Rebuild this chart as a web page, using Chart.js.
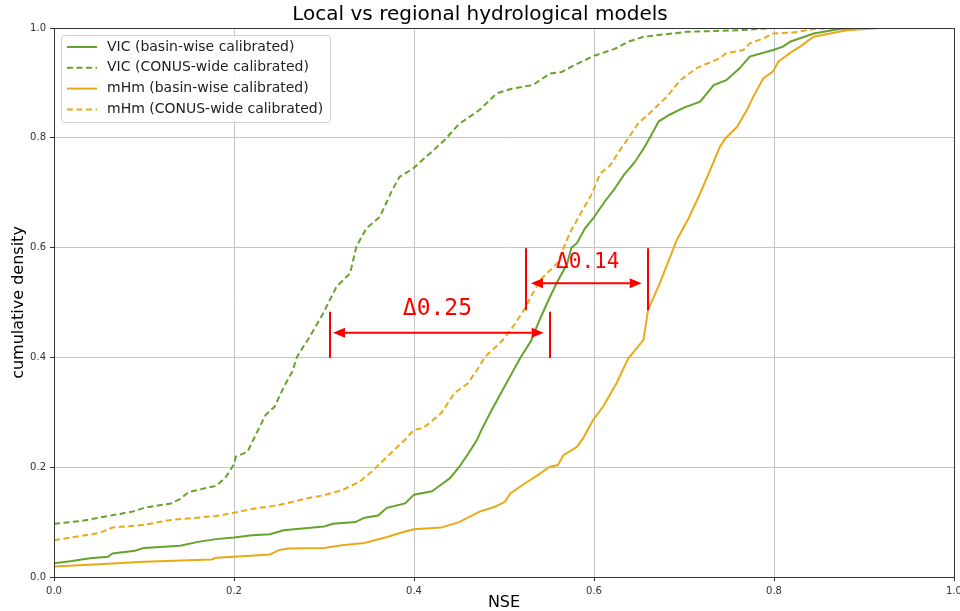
<!DOCTYPE html>
<html>
<head>
<meta charset="utf-8">
<script src="https://cdn.jsdelivr.net/npm/chart.js@4.4.1/dist/chart.umd.min.js"></script>
<style>
  html, body { margin: 0; padding: 0; background: #fff; }
  canvas { display: block; }
</style>
</head>
<body>
<canvas id="cdf" width="960" height="611"></canvas>
<script>
// NSE values (x) and cumulative density (y)
const vicBasinX = [0.000, 0.020, 0.040, 0.060, 0.065, 0.090, 0.100, 0.140, 0.160, 0.180, 0.200, 0.220, 0.240, 0.255, 0.300, 0.310, 0.335, 0.345, 0.360, 0.370, 0.390, 0.400, 0.420, 0.430, 0.440, 0.450, 0.460, 0.470, 0.475, 0.485, 0.495, 0.505, 0.518, 0.530, 0.540, 0.551, 0.560, 0.570, 0.575, 0.581, 0.590, 0.599, 0.612, 0.622, 0.633, 0.645, 0.655, 0.662, 0.672, 0.684, 0.700, 0.718, 0.733, 0.747, 0.762, 0.773, 0.799, 0.810, 0.818, 0.844, 0.873, 0.890]
const vicBasinY = [0.025, 0.029, 0.034, 0.037, 0.043, 0.048, 0.053, 0.057, 0.064, 0.069, 0.072, 0.076, 0.078, 0.085, 0.092, 0.097, 0.100, 0.108, 0.112, 0.126, 0.134, 0.150, 0.156, 0.168, 0.180, 0.200, 0.224, 0.250, 0.268, 0.300, 0.330, 0.360, 0.399, 0.430, 0.470, 0.510, 0.540, 0.570, 0.600, 0.608, 0.635, 0.653, 0.684, 0.705, 0.732, 0.755, 0.780, 0.800, 0.830, 0.842, 0.855, 0.866, 0.896, 0.905, 0.927, 0.948, 0.960, 0.966, 0.975, 0.990, 0.998, 1.000]

const vicConusX = [0.000, 0.030, 0.050, 0.070, 0.090, 0.100, 0.130, 0.140, 0.150, 0.180, 0.190, 0.200, 0.202, 0.215, 0.225, 0.235, 0.245, 0.255, 0.265, 0.270, 0.285, 0.299, 0.314, 0.329, 0.336, 0.347, 0.362, 0.375, 0.384, 0.399, 0.418, 0.434, 0.450, 0.473, 0.492, 0.510, 0.532, 0.551, 0.564, 0.584, 0.601, 0.623, 0.638, 0.655, 0.703, 0.762, 0.800]
const vicConusY = [0.097, 0.102, 0.108, 0.114, 0.120, 0.126, 0.134, 0.142, 0.155, 0.166, 0.180, 0.205, 0.219, 0.228, 0.262, 0.295, 0.310, 0.345, 0.375, 0.401, 0.440, 0.480, 0.529, 0.553, 0.602, 0.635, 0.656, 0.702, 0.729, 0.744, 0.772, 0.796, 0.825, 0.851, 0.881, 0.890, 0.896, 0.917, 0.920, 0.937, 0.950, 0.962, 0.975, 0.984, 0.993, 0.996, 1.000]

const mhmBasinX = [0.000, 0.050, 0.100, 0.175, 0.180, 0.200, 0.240, 0.250, 0.260, 0.300, 0.320, 0.345, 0.370, 0.390, 0.400, 0.430, 0.450, 0.473, 0.490, 0.501, 0.507, 0.521, 0.538, 0.551, 0.560, 0.566, 0.581, 0.588, 0.599, 0.610, 0.625, 0.638, 0.655, 0.660, 0.673, 0.692, 0.705, 0.718, 0.729, 0.740, 0.746, 0.759, 0.770, 0.777, 0.788, 0.799, 0.805, 0.820, 0.829, 0.844, 0.881, 0.918]
const mhmBasinY = [0.019, 0.023, 0.028, 0.032, 0.035, 0.037, 0.041, 0.049, 0.052, 0.053, 0.058, 0.062, 0.073, 0.083, 0.087, 0.090, 0.100, 0.119, 0.128, 0.137, 0.152, 0.168, 0.186, 0.201, 0.204, 0.222, 0.237, 0.253, 0.286, 0.310, 0.353, 0.398, 0.432, 0.486, 0.535, 0.614, 0.653, 0.699, 0.741, 0.784, 0.799, 0.820, 0.851, 0.875, 0.908, 0.921, 0.939, 0.957, 0.966, 0.984, 0.996, 1.000]

const mhmConusX = [0.000, 0.050, 0.065, 0.100, 0.130, 0.180, 0.200, 0.220, 0.250, 0.280, 0.300, 0.320, 0.340, 0.355, 0.370, 0.390, 0.400, 0.410, 0.430, 0.445, 0.460, 0.470, 0.479, 0.499, 0.510, 0.522, 0.540, 0.559, 0.573, 0.584, 0.597, 0.607, 0.618, 0.629, 0.638, 0.649, 0.662, 0.681, 0.696, 0.714, 0.740, 0.747, 0.766, 0.773, 0.788, 0.799, 0.822, 0.844, 0.870]
const mhmConusY = [0.067, 0.080, 0.090, 0.095, 0.104, 0.111, 0.117, 0.124, 0.131, 0.143, 0.149, 0.158, 0.174, 0.195, 0.219, 0.250, 0.268, 0.271, 0.298, 0.335, 0.353, 0.377, 0.401, 0.432, 0.456, 0.486, 0.541, 0.571, 0.626, 0.659, 0.696, 0.735, 0.750, 0.778, 0.799, 0.826, 0.845, 0.875, 0.905, 0.927, 0.945, 0.954, 0.960, 0.972, 0.981, 0.990, 0.992, 0.998, 1.000]

const seriesLabels = ['VIC (basin-wise calibrated)', 'VIC (CONUS-wide calibrated)', 'mHm (basin-wise calibrated)', 'mHm (CONUS-wide calibrated)']
const tickValues = [0, 0.2, 0.4, 0.6, 0.8, 1.0]

// the two red "gap" markers (data units)
const deltaLabels = ['Δ0.25', 'Δ0.14']
const deltaLeftX = [0.307, 0.524]
const deltaRightX = [0.551, 0.660]
const deltaBarLow = [0.399, 0.486]
const deltaBarHigh = [0.483, 0.599]
const deltaArrowY = [0.445, 0.535]
const deltaArrowStart = [0.310, 0.530]
const deltaArrowEnd = [0.544, 0.653]
const deltaTextX = [0.426, 0.593]
const deltaTextY = [0.488, 0.572]
const deltaFontSize = [23, 21]

const green = '#66a32c'
const orange = '#e8aa18'
const dash = [6, 3.5]

const toPoints = (xs, ys) => xs.map((x, i) => ({ x: x, y: ys[i] }))

const makeSet = (label, xs, ys, color, dashed) => ({
    label: label,
    data: toPoints(xs, ys),
    borderColor: color,
    backgroundColor: color,
    borderWidth: 2,
    borderDash: dashed ? dash : [],
    showLine: true,
    pointRadius: 0,
    tension: 0,
    fill: false
})

const frameAndExtras = {
    id: 'frameAndExtras',
    afterDatasetsDraw(chart) {
        const ctx = chart.ctx
        const xs = chart.scales.x
        const ys = chart.scales.y
        const area = chart.chartArea

        // red delta markers
        ctx.save()
        ctx.strokeStyle = '#ff0000'
        ctx.fillStyle = '#ff0000'
        ctx.lineWidth = 2
        deltaLabels.forEach((txt, i) => {
            const yLo = ys.getPixelForValue(deltaBarLow[i])
            const yHi = ys.getPixelForValue(deltaBarHigh[i])
            ;[deltaLeftX[i], deltaRightX[i]].forEach(v => {
                const px = Math.round(xs.getPixelForValue(v))
                ctx.beginPath()
                ctx.moveTo(px, yLo)
                ctx.lineTo(px, yHi)
                ctx.stroke()
            })
            const ay = ys.getPixelForValue(deltaArrowY[i])
            const a0 = xs.getPixelForValue(deltaArrowStart[i])
            const a1 = xs.getPixelForValue(deltaArrowEnd[i])
            const head = 12, half = 5
            ctx.beginPath()
            ctx.moveTo(a0 + head, ay)
            ctx.lineTo(a1 - head, ay)
            ctx.stroke()
            ctx.beginPath()
            ctx.moveTo(a0, ay)
            ctx.lineTo(a0 + head, ay - half)
            ctx.lineTo(a0 + head, ay + half)
            ctx.closePath()
            ctx.fill()
            ctx.beginPath()
            ctx.moveTo(a1, ay)
            ctx.lineTo(a1 - head, ay - half)
            ctx.lineTo(a1 - head, ay + half)
            ctx.closePath()
            ctx.fill()

            ctx.font = deltaFontSize[i] + 'px "DejaVu Sans Mono", monospace'
            ctx.textAlign = 'center'
            ctx.textBaseline = 'middle'
            ctx.fillText(txt, xs.getPixelForValue(deltaTextX[i]), ys.getPixelForValue(deltaTextY[i]))
        })
        ctx.restore()

        // top and right spines
        ctx.save()
        ctx.strokeStyle = '#333'
        ctx.lineWidth = 1
        ctx.strokeRect(Math.round(area.left) + 0.5, Math.round(area.top) + 0.5,
            Math.round(area.right - area.left), Math.round(area.bottom - area.top))
        ctx.restore()

        // legend box in the upper left corner
        const lx = area.left + 7, ly = area.top + 7
        const lw = 269, lh = 87
        ctx.save()
        ctx.fillStyle = 'rgba(255,255,255,0.85)'
        ctx.strokeStyle = '#d0d0d0'
        ctx.lineWidth = 1
        ctx.beginPath()
        ctx.roundRect(lx + 0.5, ly + 0.5, lw, lh, 3)
        ctx.fill()
        ctx.stroke()
        ctx.font = '14px "DejaVu Sans", sans-serif'
        ctx.textBaseline = 'middle'
        ctx.textAlign = 'left'
        chart.data.datasets.forEach((ds, i) => {
            const rowY = ly + 12 + i * 20.8
            ctx.strokeStyle = ds.borderColor
            ctx.lineWidth = 2
            ctx.setLineDash(ds.borderDash)
            ctx.beginPath()
            ctx.moveTo(lx + 6, rowY)
            ctx.lineTo(lx + 36, rowY)
            ctx.stroke()
            ctx.setLineDash([])
            ctx.fillStyle = '#222'
            ctx.fillText(ds.label, lx + 46, rowY)
        })
        ctx.restore()
    }
}

const axisCommon = {
    type: 'linear',
    min: 0,
    max: 1,
    afterBuildTicks: s => { s.ticks = tickValues.map(v => ({ value: v })) },
    ticks: {
        callback: v => v.toFixed(1),
        font: { family: 'DejaVu Sans', size: 10 },
        color: '#333',
        padding: 4,
        maxRotation: 0,
        autoSkip: false
    },
    grid: {
        color: '#c4c4c4',
        lineWidth: 1,
        tickLength: 4,
        tickColor: '#333'
    },
    border: { color: '#333', width: 1 }
}

new Chart(document.getElementById('cdf'), {
    type: 'scatter',
    data: {
        datasets: [
            makeSet(seriesLabels[0], vicBasinX, vicBasinY, green, false),
            makeSet(seriesLabels[1], vicConusX, vicConusY, green, true),
            makeSet(seriesLabels[2], mhmBasinX, mhmBasinY, orange, false),
            makeSet(seriesLabels[3], mhmConusX, mhmConusY, orange, true)
        ]
    },
    options: {
        responsive: false,
        animation: false,
        devicePixelRatio: 1,
        layout: { padding: { left: 0, right: 0, top: 0, bottom: 0 } },
        plugins: {
            legend: { display: false },
            tooltip: { enabled: false },
            title: {
                display: true,
                text: 'Local vs regional hydrological models',
                color: '#000',
                font: { family: 'DejaVu Sans', size: 20, weight: 'normal', lineHeight: 1.2 },
                padding: { top: 3, bottom: 1 }
            }
        },
        scales: {
            x: Object.assign({}, axisCommon, {
                position: 'bottom',
                title: {
                    display: true,
                    text: 'NSE',
                    color: '#000',
                    font: { family: 'DejaVu Sans', size: 16, lineHeight: 1 },
                    padding: { top: 0, bottom: 0 }
                },
                afterFit: s => { s.height = 34; s.paddingRight = 6 }
            }),
            y: Object.assign({}, axisCommon, {
                position: 'left',
                title: {
                    display: true,
                    text: 'cumulative density',
                    color: '#000',
                    font: { family: 'DejaVu Sans', size: 16, lineHeight: 1 },
                    padding: { top: 11, bottom: 0 }
                },
                afterFit: s => { s.width = 54 }
            })
        }
    },
    plugins: [frameAndExtras]
})
</script>
</body>
</html>
